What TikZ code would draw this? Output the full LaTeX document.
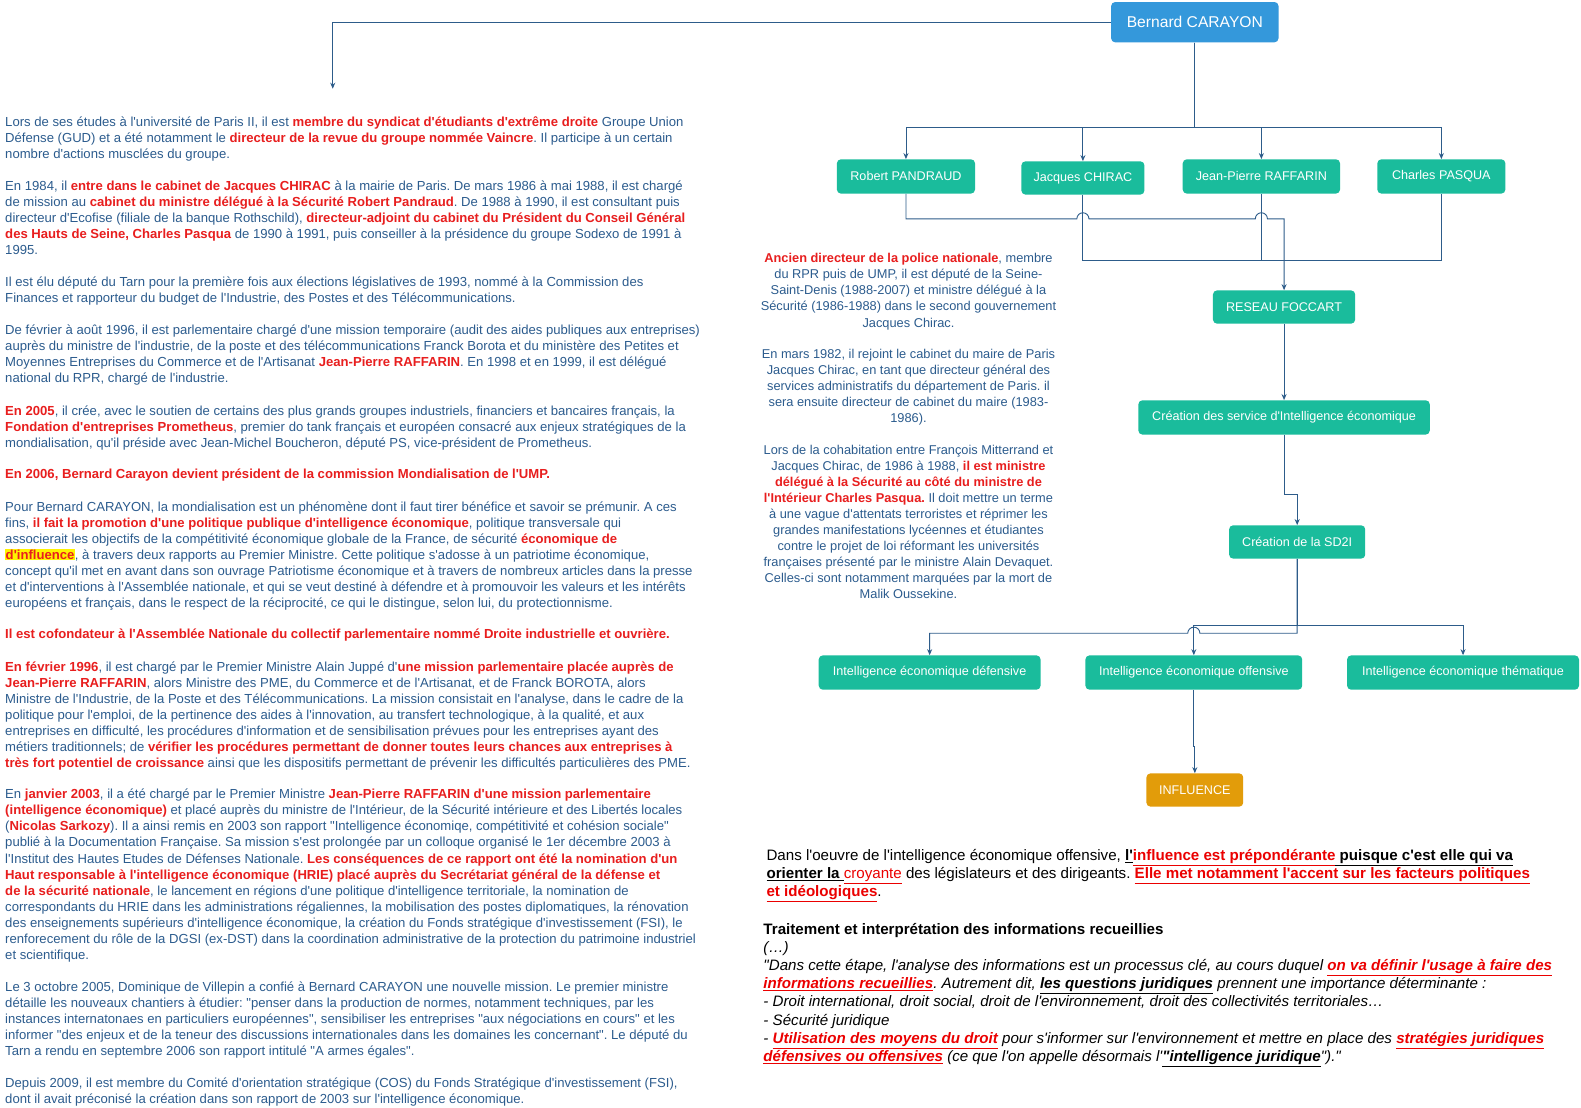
\documentclass[tikz,border=0pt]{standalone}
\usepackage{fontspec}
\setmainfont{Liberation Sans}[Ligatures=TeXOff]
\usepackage{xcolor}
\usetikzlibrary{arrows.meta, positioning, calc}
\definecolor{cbblue}{RGB}{52,152,219}
\definecolor{cbteal}{RGB}{26,188,156}
\definecolor{cborange}{RGB}{226,156,10}
\definecolor{cbline}{RGB}{45,92,138}
\definecolor{cbtext}{RGB}{44,92,142}
\definecolor{cbred}{RGB}{232,30,30}
\definecolor{cbhot}{RGB}{235,0,0}
\newcommand{\rd}[1]{\textcolor{cbred}{\textbf{#1}}}
\newcommand{\hot}[1]{\textcolor{cbhot}{#1}}
\newcommand{\undl}[1]{\underline{#1}}
\newcommand{\hlt}[1]{{\fboxsep=0.5pt\colorbox{yellow}{#1}}}
\frenchspacing

\tikzset{
  box/.style={rectangle, rounded corners=4pt, fill=cbteal, text=white, inner sep=0pt,
    font=\fontsize{12.5}{15}\selectfont, minimum height=34pt},
  link/.style={draw=cbline, line width=0.9pt},
  arr/.style={link, -{Stealth[length=6pt, width=5pt]}},
  para/.style={anchor=north west, inner sep=0pt, align=left, text=cbtext,
    font=\fontsize{13}{15.87}\selectfont},
  note/.style={anchor=north, inner sep=0pt, align=center, text=cbtext,
    font=\fontsize{12.7}{15.9}\selectfont},
  remark/.style={anchor=north west, inner sep=0pt, align=left, text=black,
    font=\fontsize{15}{18}\selectfont},
}

\begin{document}
\begin{tikzpicture}[x=1pt, y=-1pt]
\useasboundingbox (0,0) rectangle (1568,1098);
\fill[white] (0,0) rectangle (1568,1098);

% ---- chart nodes ----
\node[box, fill=cbblue, minimum width=166pt, minimum height=40pt,
  font=\fontsize{15.5}{18}\selectfont] (bernard) at (1185,22) {Bernard CARAYON};

\node[box, minimum width=137pt] (pandraud) at (898.5,175) {Robert PANDRAUD};
\node[box, minimum width=122pt, minimum height=33pt] (chirac) at (1074,176.5) {Jacques CHIRAC};
\node[box, minimum width=156pt] (raffarin) at (1251,175) {Jean-Pierre RAFFARIN};
\node[box, minimum width=127pt] (pasqua) at (1429.5,175) {Charles PASQUA};

\node[box, minimum width=141pt, minimum height=33pt] (foccart) at (1273.5,304.5) {RESEAU FOCCART};
\node[box, minimum width=289pt] (service) at (1273.5,414) {Création des service d'Intelligence économique};
\node[box, minimum width=135pt, minimum height=33pt] (sdii) at (1286.5,537.5) {Création de la SD2I};

\node[box, minimum width=220pt] (defensive) at (922,667) {Intelligence économique défensive};
\node[box, minimum width=215pt] (offensive) at (1184,667) {Intelligence économique offensive};
\node[box, minimum width=230pt] (thematique) at (1451,667) {Intelligence économique thématique};

\node[box, fill=cborange, minimum width=96pt, minimum height=33pt] (influence) at (1185,783.5) {INFLUENCE};

% ---- connectors ----
\coordinate (leftend) at (330,88);
\coordinate (rowT) at (0,126);
\coordinate (rowA) at (0,217);
\coordinate (rowB) at (0,258);
\coordinate (rowC) at (0,620);
\coordinate (rowD) at (0,628);

\draw[arr] (bernard.west) -| (leftend);
\draw[arr] (bernard.south) -- (bernard.south |- rowT) -| (pandraud.north);
\draw[arr] (bernard.south) -- (bernard.south |- rowT) -| (chirac.north);
\draw[arr] (bernard.south) -- (bernard.south |- rowT) -| (raffarin.north);
\draw[arr] (bernard.south) -- (bernard.south |- rowT) -| (pasqua.north);

\draw[arr] (pandraud.south) |- ($(chirac.south |- rowA)+(-6,0)$)
  arc[start angle=180, end angle=360, radius=6]
  -- ($(raffarin.south |- rowA)+(-6,0)$)
  arc[start angle=180, end angle=360, radius=6]
  -| (foccart.north);
\draw[link] (chirac.south) |- (pasqua.south |- rowB) -- (pasqua.south);
\draw[link] (raffarin.south) -- (raffarin.south |- rowB);

\draw[arr] (foccart.south) -- (service.north);
\draw[arr] (service.south) -- ++(0,59) -| (sdii.north);

\draw[arr] (sdii.south) |- ($(offensive.north |- rowD)+(6,0)$)
  arc[start angle=0, end angle=-180, radius=6]
  -| (defensive.north);
\draw[arr] (sdii.south) |- (offensive.north |- rowC) -- (offensive.north);
\draw[arr] (sdii.south) |- (thematique.north |- rowC) -- (thematique.north);
\draw[arr] (offensive.south) -- ++(0,56) -| (influence.north);

% ---- left column ----
\node[para] (p1) at (5,114.6) {\strut Lors de ses études à l'université de Paris II, il est \rd{membre du syndicat d'étudiants d'extrême droite} Groupe Union\\
Défense (GUD) et a été notamment le \rd{directeur de la revue du groupe nommée Vaincre}. Il participe à un certain\\
nombre d'actions musclées du groupe.};

\node[para] (p2) at (5,178.1) {\strut En 1984, il \rd{entre dans le cabinet de Jacques CHIRAC} à la mairie de Paris. De mars 1986 à mai 1988, il est chargé\\
de mission au \rd{cabinet du ministre délégué à la Sécurité Robert Pandraud}. De 1988 à 1990, il est consultant puis\\
directeur d'Ecofise (filiale de la banque Rothschild), \rd{directeur-adjoint du cabinet du Président du Conseil Général}\\
\rd{des Hauts de Seine, Charles Pasqua} de 1990 à 1991, puis conseiller à la présidence du groupe Sodexo de 1991 à\\
1995.};

\node[para] (p3) at (5,273.3) {\strut Il est élu député du Tarn pour la première fois aux élections législatives de 1993, nommé à la Commission des\\
Finances et rapporteur du budget de l'Industrie, des Postes et des Télécommunications.};

\node[para] (p4) at (5,320.9) {\strut De février à août 1996, il est parlementaire chargé d'une mission temporaire (audit des aides publiques aux entreprises)\\
auprès du ministre de l'industrie, de la poste et des télécommunications Franck Borota et du ministère des Petites et\\
Moyennes Entreprises du Commerce et de l'Artisanat \rd{Jean-Pierre RAFFARIN}. En 1998 et en 1999, il est délégué\\
national du RPR, chargé de l'industrie.};

\node[para] (p5) at (5,400.3) {\strut\rd{En 2005}, il crée, avec le soutien de certains des plus grands groupes industriels, financiers et bancaires français, la\\
\rd{Fondation d'entreprises Prometheus}, premier do tank français et européen consacré aux enjeux stratégiques de la\\
mondialisation, qu'il préside avec Jean-Michel Boucheron, député PS, vice-président de Prometheus.};

\node[para] (p6) at (5,463.7) {\strut\rd{En 2006, Bernard Carayon devient président de la commission Mondialisation de l'UMP.}};

\node[para] (p7) at (5,495.5) {\strut Pour Bernard CARAYON, la mondialisation est un phénomène dont il faut tirer bénéfice et savoir se prémunir. A ces\\
fins, \rd{il fait la promotion d'une politique publique d'intelligence économique}, politique transversale qui\\
associerait les objectifs de la compétitivité économique globale de la France, de sécurité \rd{économique de}\\
\hlt{\rd{d'influence}}, à travers deux rapports au Premier Ministre. Cette politique s'adosse à un patriotime économique,\\
concept qu'il met en avant dans son ouvrage Patriotisme économique et à travers de nombreux articles dans la presse\\
et d'interventions à l'Assemblée nationale, et qui se veut destiné à défendre et à promouvoir les valeurs et les intérêts\\
européens et français, dans le respect de la réciprocité, ce qui le distingue, selon lui, du protectionnisme.};

\node[para] (p8) at (5,622.4) {\strut\rd{Il est cofondateur à l'Assemblée Nationale du collectif parlementaire nommé Droite industrielle et ouvrière.}};

\node[para] (p9) at (5,654.2) {\strut\rd{En février 1996}, il est chargé par le Premier Ministre Alain Juppé d'\rd{une mission parlementaire placée auprès de}\\
\rd{Jean-Pierre RAFFARIN}, alors Ministre des PME, du Commerce et de l'Artisanat, et de Franck BOROTA, alors\\
Ministre de l'Industrie, de la Poste et des Télécommunications. La mission consistait en l'analyse, dans le cadre de la\\
politique pour l'emploi, de la pertinence des aides à l'innovation, au transfert technologique, à la qualité, et aux\\
entreprises en difficulté, les procédures d'information et de sensibilisation prévues pour les entreprises ayant des\\
métiers traditionnels; de \rd{vérifier les procédures permettant de donner toutes leurs chances aux entreprises à}\\
\rd{très fort potentiel de croissance} ainsi que les dispositifs permettant de prévenir les difficultés particulières des PME.};

\node[para] (p10) at (5,781.1) {\strut En \rd{janvier 2003}, il a été chargé par le Premier Ministre \rd{Jean-Pierre RAFFARIN d'une mission parlementaire}\\
\rd{(intelligence économique)} et placé auprès du ministre de l'Intérieur, de la Sécurité intérieure et des Libertés locales\\
(\rd{Nicolas Sarkozy}). Il a ainsi remis en 2003 son rapport "Intelligence économiqe, compétitivité et cohésion sociale"\\
publié à la Documentation Française. Sa mission s'est prolongée par un colloque organisé le 1er décembre 2003 à\\
l'Institut des Hautes Etudes de Défenses Nationale. \rd{Les conséquences de ce rapport ont été la nomination d'un}\\
\rd{Haut responsable à l'intelligence économique (HRIE) placé auprès du Secrétariat général de la défense et}\\
\rd{de la sécurité nationale}, le lancement en régions d'une politique d'intelligence territoriale, la nomination de\\
correspondants du HRIE dans les administrations régaliennes, la mobilisation des postes diplomatiques, la rénovation\\
des enseignements supérieurs d'intelligence économique, la création du Fonds stratégique d'investissement (FSI), le\\
renforecement du rôle de la DGSI (ex-DST) dans la coordination administrative de la protection du patrimoine industriel\\
et scientifique.};

\node[para] (p11) at (5,971.6) {\strut Le 3 octobre 2005, Dominique de Villepin a confié à Bernard CARAYON une nouvelle mission. Le premier ministre\\
détaille les nouveaux chantiers à étudier: "penser dans la production de normes, notamment techniques, par les\\
instances internatonaes en particuliers européennes", sensibiliser les entreprises "aux négociations en cours" et les\\
informer "des enjeux et de la teneur des discussions internationales dans les domaines les concernant". Le député du\\
Tarn a rendu en septembre 2006 son rapport intitulé "A armes égales".};

\node[para] (p12) at (5,1066.8) {\strut Depuis 2009, il est membre du Comité d'orientation stratégique (COS) du Fonds Stratégique d'investissement (FSI),\\
dont il avait préconisé la création dans son rapport de 2003 sur l'intelligence économique.};

% ---- middle notes ----
\node[note] (n1) at (901,249.4) {\strut\rd{Ancien directeur de la police nationale}, membre\\
du RPR puis de UMP, il est député de la Seine-\\
Saint-Denis (1988-2007) et ministre délégué à la\\
Sécurité (1986-1988) dans le second gouvernement\\
Jacques Chirac.};

\node[note] (n2) at (901,344.4) {\strut En mars 1982, il rejoint le cabinet du maire de Paris\\
Jacques Chirac, en tant que directeur général des\\
services administratifs du département de Paris. il\\
sera ensuite directeur de cabinet du maire (1983-\\
1986).};

\node[note] (n3) at (901,439.4) {\strut Lors de la cohabitation entre François Mitterrand et\\
Jacques Chirac, de 1986 à 1988, \rd{il est ministre}\\
\rd{délégué à la Sécurité au côté du ministre de}\\
\rd{l'Intérieur Charles Pasqua.} Il doit mettre un terme\\
à une vague d'attentats terroristes et réprimer les\\
grandes manifestations lycéennes et étudiantes\\
contre le projet de loi réformant les universités\\
françaises présenté par le ministre Alain Devaquet.\\
Celles-ci sont notamment marquées par la mort de\\
Malik Oussekine.};

% ---- bottom right remarks ----
\node[remark] (r1) at (760,840.8) {\strut Dans l'oeuvre de l'intelligence économique offensive, \textbf{\undl{l'}\hot{\undl{influence est prépondérante}}\undl{ puisque c'est elle qui va}}\\
\textbf{\undl{orienter la }}\hot{\undl{croyante}} des législateurs et des dirigeants. \hot{\textbf{\undl{Elle met notamment l'accent sur les facteurs politiques}}}\\
\hot{\textbf{\undl{et idéologiques}}}.};

\node[remark] (r2) at (757,913.8) {\strut\textbf{Traitement et interprétation des informations recueillies}\\
\itshape (…)\\
\itshape "Dans cette étape, l'analyse des informations est un processus clé, au cours duquel \hot{\textbf{\undl{on va définir l'usage à faire des}}}\\
\itshape \hot{\textbf{\undl{informations recueillies}}}. Autrement dit, \textbf{\undl{les questions juridiques}} prennent une importance déterminante :\\
\itshape - Droit international, droit social, droit de l'environnement, droit des collectivités territoriales…\\
\itshape - Sécurité juridique\\
\itshape - \hot{\textbf{\undl{Utilisation des moyens du droit}}} pour s'informer sur l'environnement et mettre en place des \hot{\textbf{\undl{stratégies juridiques}}}\\
\itshape \hot{\textbf{\undl{défensives ou offensives}}} (ce que l'on appelle désormais l'\textbf{\undl{"intelligence juridique}}")."};
\end{tikzpicture}
\end{document}
